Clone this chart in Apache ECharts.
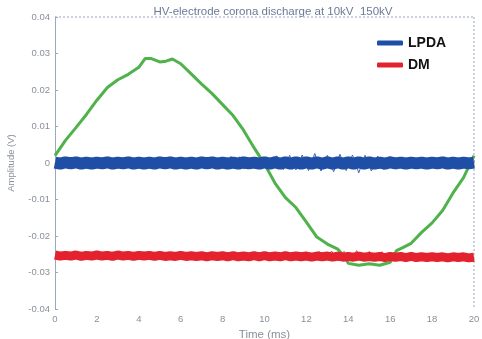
<!DOCTYPE html>
<html><head><meta charset="utf-8">
<script src="https://cdn.jsdelivr.net/npm/echarts@6/dist/echarts.min.js"></script>
<style>html,body{margin:0;padding:0;background:#fff}#c{width:482px;height:339px}</style>
</head><body><div id="c"></div>
<script>
const titleText = 'HV-electrode corona discharge at 10kV  150kV';
const xTicks = [0,2,4,6,8,10,12,14,16,18,20];
const yTicks = [-0.04,-0.03,-0.02,-0.01,0,0.01,0.02,0.03,0.04];

const greenTime = [0,0.5,1,1.5,2,2.5,3,3.5,4,4.3,4.6,5,5.3,5.6,6,6.5,7,7.5,8,8.5,9,9.5,10,10.5,11,11.5,12,12.5,13,13.5,13.8,14,14.5,15,15.5,16,16.3,16.6,17,17.5,18,18.5,19,19.5,20];
const greenValues = [0.002,0.0062,0.0097,0.0133,0.0172,0.0207,0.0228,0.0243,0.0262,0.0286,0.0286,0.0277,0.0279,0.0285,0.0272,0.0244,0.0216,0.019,0.016,0.013,0.009,0.0042,-0.0003,-0.0055,-0.0095,-0.0122,-0.0162,-0.0203,-0.0222,-0.0236,-0.0255,-0.0275,-0.028,-0.0276,-0.028,-0.0272,-0.024,-0.0232,-0.022,-0.019,-0.0164,-0.013,-0.0082,-0.004,0.002];

const noiseTime = Array.from({length:81},(_,i)=>i*0.25);
const lpdaValues = [0.0001,-0.0002,0.0002,-0.0001,0.0002,-0.0002,0.0001,-0.0002,0.0001,-0.0001,
0.0002,-0.0002,0.0001,-0.0001,0.0002,-0.0002,0.0001,-0.0002,0.0001,-0.0002,
0.0002,-0.0001,0.0002,-0.0002,0.0001,-0.0002,0.0001,-0.0002,0.0002,-0.0001,
0.0002,-0.0002,0.0001,-0.0002,0.0001,-0.0002,0.0002,-0.0001,0.0001,-0.0002,
0.0002,-0.0002,0.0002,-0.0002,0.0002,-0.0002,0.0002,-0.0002,0.0002,-0.0002,
0.0002,-0.0002,0.0002,-0.0002,0.0002,-0.0002,0.0002,-0.0002,0.0002,-0.0002,
0.0002,-0.0002,0.0001,-0.0002,0.0002,-0.0001,0.0001,-0.0002,0.0001,-0.0001,
0.0001,-0.0002,0.0001,-0.0001,0.0002,-0.0002,0.0001,-0.0002,0.0001,-0.0001,0.0001];
const spikeTime = [8.0,8.2,8.4,8.6,8.8,9.0,10.6,10.9,11.2,11.5,11.8,12.1,12.4,12.7,13.0,13.3,13.6,13.9,14.2,14.5,14.8,15.1,15.4,15.7,16.0,16.3,16.6];
const spikeValues = [0.0016,-0.0017,0.0018,-0.0016,0.0017,-0.0016,0.0019,-0.0018,0.0021,-0.0019,0.0022,-0.0021,0.0026,-0.0022,0.0021,-0.0024,0.0024,-0.0021,0.0022,-0.0027,0.0021,-0.0022,0.0019,-0.0018,0.0018,-0.0017,0.0017];
const dmValues = [-0.0252,-0.0255,-0.0253,-0.0255,-0.0252,-0.0256,-0.0253,-0.0255,-0.0252,-0.0255,
-0.0253,-0.0256,-0.0252,-0.0255,-0.0253,-0.0256,-0.0253,-0.0255,-0.0253,-0.0256,
-0.0253,-0.0256,-0.0254,-0.0256,-0.0253,-0.0256,-0.0254,-0.0256,-0.0254,-0.0257,
-0.0254,-0.0256,-0.0254,-0.0257,-0.0254,-0.0257,-0.0255,-0.0257,-0.0254,-0.0257,
-0.0254,-0.0257,-0.0255,-0.0257,-0.0254,-0.0257,-0.0255,-0.0257,-0.0255,-0.0258,
-0.0255,-0.0257,-0.0255,-0.0258,-0.0255,-0.0258,-0.0256,-0.0258,-0.0255,-0.0258,
-0.0256,-0.0258,-0.0256,-0.0259,-0.0256,-0.0258,-0.0256,-0.0259,-0.0256,-0.0259,
-0.0257,-0.0259,-0.0257,-0.0259,-0.0257,-0.0260,-0.0257,-0.0259,-0.0257,-0.0260,-0.0258];
const dmSpikeTime = [12.0,12.3,12.6,12.9,13.2,13.5,13.8,14.1,14.4,14.7,15.0,15.3,15.6,15.9,16.2];
const dmSpikeValues = [-0.0243,-0.0266,-0.0242,-0.0267,-0.0241,-0.0268,-0.0242,-0.0267,-0.0240,-0.0269,-0.0242,-0.0267,-0.0243,-0.0266,-0.0244];

const zip = (a,b)=>a.map((t,i)=>[t,b[i]]);
const chart = echarts.init(document.getElementById('c'));
const axisCol = '#9aa8c0';
const labCol = '#8a8f99';
const blue = '#1f4ea6', red = '#e3222e', green = '#4fb24a';
chart.setOption({
  animation:false,
  title:{text:titleText,left:268,textAlign:'center',top:1,textStyle:{fontSize:11.5,fontWeight:'normal',color:'#6b7a99',fontFamily:'Arial'}},
  legend:{data:['LPDA','DM'],orient:'vertical',left:372,top:31,itemWidth:26,itemHeight:5,itemGap:8,icon:'roundRect',
    textStyle:{fontSize:14,fontWeight:'bold',color:'#111',fontFamily:'Arial'}},
  grid:{left:55,right:8,top:17,bottom:30,containLabel:false,outerBoundsMode:'none'},
  xAxis:{type:'value',min:0,max:20,interval:2,
    name:'Time (ms)',nameLocation:'middle',nameGap:15,nameTextStyle:{fontSize:11.5,color:labCol,fontFamily:'Arial'},
    axisLine:{lineStyle:{color:axisCol}},axisTick:{inside:true,length:3,lineStyle:{color:axisCol}},
    axisLabel:{fontSize:9.5,color:labCol,margin:5,fontFamily:'Arial'},
    splitLine:{show:false}},
  yAxis:{type:'value',min:-0.04,max:0.04,interval:0.01,
    name:'Amplitude (V)',nameLocation:'middle',nameGap:39,nameTextStyle:{fontSize:9.5,color:labCol,fontFamily:'Arial'},
    axisLine:{show:true,lineStyle:{color:axisCol}},axisTick:{show:true,inside:true,length:3,lineStyle:{color:axisCol}},
    axisLabel:{fontSize:9.5,color:labCol,margin:5,fontFamily:'Arial',formatter:v=>String(Math.round(v*100)/100)},
    splitLine:{show:false}},
  graphic:[
    {type:'line',shape:{x1:55,y1:17,x2:474,y2:17},style:{stroke:axisCol,lineDash:[2,2],lineWidth:1}},
    {type:'line',shape:{x1:474,y1:17,x2:474,y2:309},style:{stroke:axisCol,lineDash:[2,2],lineWidth:1}}
  ],
  series:[
    {name:'Reference',type:'line',data:zip(greenTime,greenValues),showSymbol:false,lineStyle:{color:green,width:3},itemStyle:{color:green},z:2},
    {name:'LPDA',type:'line',data:zip(spikeTime,spikeValues),showSymbol:false,lineStyle:{color:'#3a64b8',width:1},itemStyle:{color:blue},z:3},
    {name:'LPDA',type:'line',data:zip(noiseTime,lpdaValues),showSymbol:false,lineStyle:{color:blue,width:12,cap:'butt'},itemStyle:{color:blue},z:3},
    {name:'DM',type:'line',data:zip(dmSpikeTime,dmSpikeValues),showSymbol:false,lineStyle:{color:'#e8404a',width:1},itemStyle:{color:red},z:4},
    {name:'DM',type:'line',data:zip(noiseTime,dmValues),showSymbol:false,lineStyle:{color:red,width:9,cap:'butt'},itemStyle:{color:red},z:4}
  ]
});
</script></body></html>
